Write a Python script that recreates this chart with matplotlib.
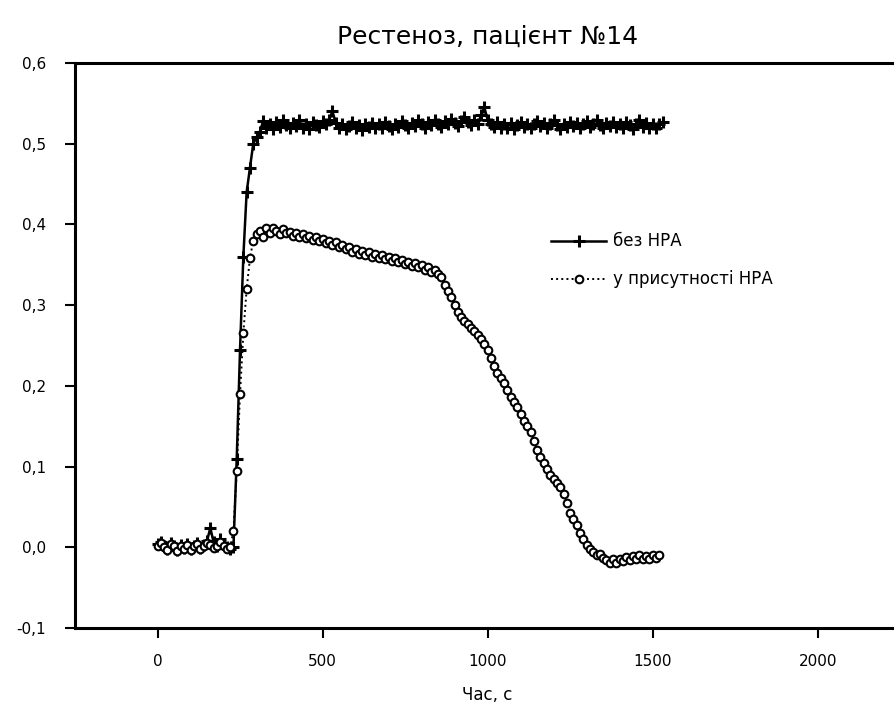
import numpy as np
import matplotlib
matplotlib.use('Agg')
import matplotlib.pyplot as plt

plt.rcParams['font.family'] = ['DejaVu Sans']

# час вимірювання, с (крок 10 с)
chas = np.arange(0, 1540, 10)

# без НРА
bez_nra = [
    0.004, 0.006, 0.002, -0.002, 0.005, 0.001, -0.003, 0.003, -0.001, 0.004,
    -0.002, 0.002, 0.005, -0.001, 0.003, 0.008, 0.024, 0.006, 0.002, 0.010,
    0.004, 0.000, -0.002, 0.000, 0.110, 0.245, 0.360, 0.440, 0.470, 0.500,
    0.508, 0.515, 0.528, 0.520, 0.524, 0.518, 0.527, 0.521, 0.530, 0.523,
    0.519, 0.526, 0.522, 0.529, 0.520, 0.525, 0.518, 0.527, 0.523, 0.521,
    0.528, 0.524, 0.530, 0.540, 0.526, 0.520, 0.524, 0.518, 0.522, 0.527,
    0.519, 0.523, 0.517, 0.525, 0.521, 0.526, 0.519, 0.524, 0.520, 0.527,
    0.522, 0.518, 0.525, 0.521, 0.528, 0.523, 0.519, 0.526, 0.522, 0.529,
    0.524, 0.520, 0.527, 0.523, 0.530, 0.525, 0.521, 0.528, 0.524, 0.531,
    0.526, 0.522, 0.528, 0.533, 0.527, 0.523, 0.529, 0.524, 0.535, 0.545,
    0.530, 0.525, 0.521, 0.527, 0.519, 0.524, 0.520, 0.526, 0.518, 0.523,
    0.527, 0.521, 0.525, 0.519, 0.524, 0.528, 0.522, 0.526, 0.520, 0.524,
    0.529, 0.523, 0.518, 0.525, 0.521, 0.527, 0.522, 0.526, 0.519, 0.524,
    0.528, 0.521, 0.525, 0.530, 0.523, 0.519, 0.526, 0.522, 0.527, 0.521,
    0.525, 0.520, 0.527, 0.523, 0.518, 0.524, 0.529, 0.521, 0.526, 0.520,
    0.524, 0.519, 0.525, 0.527,
]

# у присутності НРА
z_nra = [
    0.002, 0.005, 0.000, -0.003, 0.004, 0.001, -0.004, 0.002, -0.002, 0.003,
    -0.003, 0.001, 0.004, -0.002, 0.002, 0.005, 0.003, -0.001, 0.002, 0.006,
    0.001, -0.002, 0.000, 0.020, 0.095, 0.190, 0.265, 0.320, 0.358, 0.380,
    0.388, 0.392, 0.385, 0.395, 0.390, 0.396, 0.392, 0.388, 0.394, 0.389,
    0.391, 0.386, 0.390, 0.384, 0.388, 0.383, 0.386, 0.381, 0.384, 0.379,
    0.382, 0.377, 0.380, 0.375, 0.378, 0.372, 0.375, 0.369, 0.372, 0.366,
    0.370, 0.364, 0.367, 0.362, 0.366, 0.360, 0.364, 0.358, 0.362, 0.357,
    0.360, 0.355, 0.358, 0.353, 0.356, 0.351, 0.354, 0.349, 0.352, 0.347,
    0.350, 0.344, 0.347, 0.341, 0.343, 0.338, 0.335, 0.325, 0.318, 0.310,
    0.300, 0.292, 0.285, 0.280, 0.277, 0.272, 0.268, 0.263, 0.258, 0.252,
    0.245, 0.234, 0.225, 0.216, 0.210, 0.204, 0.195, 0.186, 0.180, 0.174,
    0.165, 0.157, 0.150, 0.143, 0.132, 0.120, 0.112, 0.104, 0.097, 0.090,
    0.085, 0.080, 0.075, 0.066, 0.055, 0.042, 0.035, 0.028, 0.018, 0.010,
    0.003, -0.002, -0.006, -0.009, -0.008, -0.013, -0.016, -0.020, -0.015, -0.019,
    -0.014, -0.017, -0.012, -0.016, -0.011, -0.015, -0.010, -0.014, -0.011, -0.015,
    -0.010, -0.013, -0.009,
]

x_ticks = [0, 500, 1000, 1500, 2000]
y_ticks = [-0.1, 0.0, 0.1, 0.2, 0.3, 0.4, 0.5, 0.6]
y_labels = ['-0,1', '0,0', '0,1', '0,2', '0,3', '0,4', '0,5', '0,6']

fig = plt.figure(figsize=(8.95, 7.13), dpi=100)
ax = fig.add_axes([0.0838, 0.1192, 0.922, 0.7924])

ax.plot(chas, bez_nra, color='black', lw=1.8, marker='+', ms=8, mew=2.2,
        label='без НРА')
ax.plot(chas[:len(z_nra)], z_nra, color='black', lw=1.4, ls=':',
        marker='o', ms=5.5, mfc='white', mec='black', mew=1.5,
        label='у присутності НРА')

ax.set_xlim(-250, 2250)
ax.set_ylim(-0.1, 0.6)
ax.set_xticks(x_ticks)
ax.set_yticks(y_ticks)
ax.set_yticklabels(y_labels)

for s in ['left', 'bottom', 'top']:
    ax.spines[s].set_linewidth(2.2)
ax.spines['right'].set_visible(False)
ax.tick_params(direction='out', length=7, width=1.5, labelsize=11, pad=12)
ax.tick_params(axis='y', pad=14)

ax.set_title('Рестеноз, пацієнт №14', fontsize=18, pad=14)
ax.set_xlabel('Час, с', fontsize=12, labelpad=12)

ax.legend(loc='upper left', bbox_to_anchor=(0.567, 0.715), frameon=False,
          fontsize=12, handlelength=3.3, handletextpad=0.4,
          labelspacing=1.2, borderpad=0)

fig.savefig('out.png', dpi=100)
